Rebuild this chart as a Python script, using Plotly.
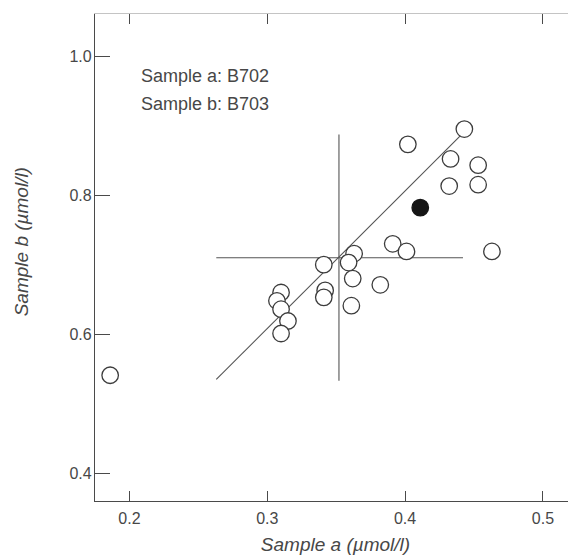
import plotly.graph_objects as go

# --- data ---
sample_a_open = [0.443, 0.402, 0.433, 0.453, 0.432, 0.453, 0.391, 0.401, 0.463, 0.363,
                 0.359, 0.341, 0.362, 0.382, 0.342, 0.341, 0.310, 0.307, 0.310, 0.361,
                 0.315, 0.310, 0.186]
sample_b_open = [0.895, 0.873, 0.852, 0.843, 0.813, 0.815, 0.730, 0.719, 0.719, 0.716,
                 0.703, 0.700, 0.680, 0.671, 0.663, 0.653, 0.660, 0.648, 0.636, 0.641,
                 0.619, 0.601, 0.541]
sample_a_filled = [0.411]
sample_b_filled = [0.782]

# regression line end points
reg_x = [0.263, 0.442]
reg_y = [0.535, 0.889]
# cross lines (mean lines)
vline_x = [0.352, 0.352]
vline_y = [0.533, 0.887]
hline_x = [0.263, 0.442]
hline_y = [0.710, 0.710]

x_ticks = [0.2, 0.3, 0.4, 0.5]
x_ticklabels = ["0.2", "0.3", "0.4", "0.5"]
y_ticks = [0.4, 0.6, 0.8, 1.0]
y_ticklabels = ["0.4", "0.6", "0.8", "1.0"]

x_range = [0.175, 0.524]
y_range = [0.3602, 1.0604]

FONT = "Liberation Sans, Arial, Helvetica, sans-serif"
LINE = "#4a4a4a"
TEXT = "#474747"

fig = go.Figure()

for xs, ys in [(reg_x, reg_y), (vline_x, vline_y), (hline_x, hline_y)]:
    fig.add_trace(go.Scatter(x=xs, y=ys, mode="lines",
                             line=dict(color="#555555", width=1.1),
                             showlegend=False, hoverinfo="skip"))

fig.add_trace(go.Scatter(x=sample_a_open, y=sample_b_open, mode="markers",
                         marker=dict(symbol="circle", size=16.5, color="white",
                                     line=dict(color="#3c3c3c", width=1.3)),
                         showlegend=False))
fig.add_trace(go.Scatter(x=sample_a_filled, y=sample_b_filled, mode="markers",
                         marker=dict(symbol="circle", size=16.5, color="#151515",
                                     line=dict(color="#151515", width=1.3)),
                         showlegend=False))

# invisible trace to keep the mirrored axes alive
fig.add_trace(go.Scatter(x=[x_range[0]], y=[y_range[0]], xaxis="x2", yaxis="y2",
                         mode="markers", marker=dict(opacity=0), showlegend=False,
                         hoverinfo="skip"))

fig.update_layout(
    width=568, height=547,
    margin=dict(l=87, r=0, t=6, b=54),
    plot_bgcolor="white", paper_bgcolor="white",
    font=dict(family=FONT, color=TEXT, size=16),
    xaxis=dict(range=x_range, tickvals=x_ticks, ticktext=x_ticklabels,
               ticks="inside", ticklen=10, tickwidth=1.1, tickcolor=LINE,
               showline=True, linecolor=LINE, linewidth=1.2, showgrid=False,
               zeroline=False, tickfont=dict(size=16, color=TEXT),
               ticklabelstandoff=3,
               title=dict(text="<i>Sample a (µmol/l)</i>", font=dict(size=19, color=TEXT),
                          standoff=11)),
    yaxis=dict(range=y_range, tickvals=y_ticks, ticktext=y_ticklabels,
               ticks="inside", ticklen=15, tickwidth=1.1, tickcolor=LINE,
               showline=True, linecolor=LINE, linewidth=1.2, showgrid=False,
               zeroline=False, tickfont=dict(size=16, color=TEXT),
               ticklabelstandoff=-1),
    xaxis2=dict(overlaying="x", side="top", range=x_range, tickvals=x_ticks,
                showticklabels=False, ticks="inside", ticklen=10, tickwidth=1.1,
                tickcolor=LINE, showline=True, linecolor="#c4c4c4", linewidth=1,
                showgrid=False, zeroline=False),
    yaxis2=dict(overlaying="y", side="right", range=y_range, tickvals=y_ticks,
                showticklabels=False, ticks="inside", ticklen=6, tickwidth=1.1,
                tickcolor=LINE, showline=False, showgrid=False, zeroline=False),
    annotations=[
        dict(text="Sample a: B702", xref="paper", yref="paper", x=0.092, y=0.873,
             xanchor="left", yanchor="middle", showarrow=False,
             font=dict(size=18, color=TEXT)),
        dict(text="Sample b: B703", xref="paper", yref="paper", x=0.092, y=0.815,
             xanchor="left", yanchor="middle", showarrow=False,
             font=dict(size=18, color=TEXT)),
        dict(text="<i>Sample b (µmol/l)</i>", xref="paper", yref="paper",
             x=-0.152, y=0.533, xanchor="center", yanchor="middle", textangle=-90,
             showarrow=False, font=dict(size=19, color=TEXT)),
    ],
)

fig.write_html("out.html")
